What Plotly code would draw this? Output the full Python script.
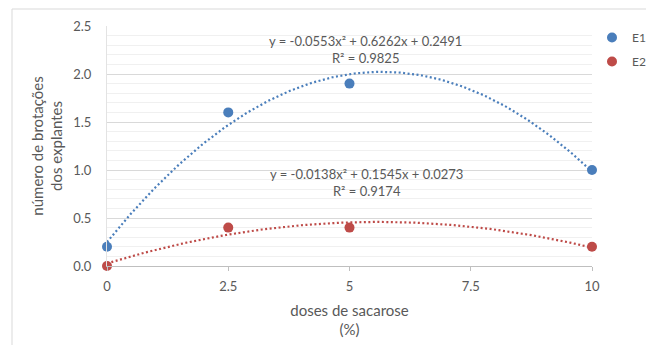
import numpy as np
import plotly.graph_objects as go

# ---- data ----
doses = [0, 2.5, 5, 10]
e1_values = [0.2, 1.6, 1.9, 1.0]
e2_values = [0.0, 0.4, 0.4, 0.2]
series_names = ["E1", "E2"]
eq_e1 = "y = -0.0553x² + 0.6262x + 0.2491<br>R² = 0.9825"
eq_e2 = "y = -0.0138x² + 0.1545x + 0.0273<br>R² = 0.9174"
x_ticks = [0, 2.5, 5, 7.5, 10]
x_tick_labels = ["0", "2.5", "5", "7.5", "10"]
y_ticks = [0.0, 0.5, 1.0, 1.5, 2.0, 2.5]

BLUE = "#4A7EBB"
RED = "#BE4B48"
GRAY = "#595959"
FONT = "Lato, Carlito, Calibri, sans-serif"

xs = np.linspace(0, 10, 201)
fit1 = np.polyval(np.polyfit(doses, e1_values, 2), xs)
fit2 = np.polyval(np.polyfit(doses, e2_values, 2), xs)

fig = go.Figure()
for name, fit, col in [("E1", fit1, BLUE), ("E2", fit2, RED)]:
    fig.add_trace(go.Scatter(x=xs, y=fit, mode="lines", showlegend=False,
                             line=dict(color=col, width=2.2, dash="2px,2.5px"),
                             hoverinfo="skip", cliponaxis=False))
for name, vals, col in [("E1", e1_values, BLUE), ("E2", e2_values, RED)]:
    fig.add_trace(go.Scatter(x=doses, y=vals, mode="markers", name=name,
                             legendgroup=name,
                             marker=dict(color=col, size=10), cliponaxis=False))

fig.update_layout(
    width=638, height=337,
    margin=dict(l=99, r=54, t=18, b=79, autoexpand=False),
    paper_bgcolor="white", plot_bgcolor="white",
    font=dict(family=FONT, color=GRAY, size=12),
    legend=dict(x=1.0, y=1.0125, xanchor="left", yanchor="top",
                font=dict(size=12, color=GRAY), traceorder="grouped",
                tracegroupgap=5, itemwidth=30, bgcolor="rgba(0,0,0,0)"),
    xaxis=dict(range=[0, 10], tickvals=x_ticks, ticktext=x_tick_labels, automargin=False,
               showgrid=False, zeroline=False, showline=True, linecolor="#BFBFBF",
               ticks="outside", ticklen=4, tickcolor="#BFBFBF",
               tickfont=dict(size=13, color=GRAY), ticklabelstandoff=4,
               title=dict(text="doses de sacarose<br>(%)",
                          font=dict(size=15, color=GRAY), standoff=12)),
    yaxis=dict(range=[0, 2.5], tickvals=y_ticks, tickformat=".1f", automargin=False,
               showgrid=True, gridcolor="#D9D9D9", gridwidth=1,
               minor=dict(dtick=0.1, showgrid=True, gridcolor="#F0F0F0", gridwidth=1, ticks=""),
               zeroline=False, showline=True, linecolor="#E3E3E3",
               ticks="", tickfont=dict(size=13, color=GRAY), ticklabelstandoff=12,
               title=dict(text="número de brotações<br>dos explantes",
                          font=dict(size=15, color=GRAY), standoff=6)),
    shapes=[dict(type="rect", xref="paper", yref="paper",
                 x0=(12 - 107) / 485, x1=1.2, y0=-0.5, y1=(266 - 9) / 240,
                 line=dict(color="#D9D9D9", width=1), layer="below")],
    annotations=[
        dict(text=eq_e1, x=5.32, y=2.26, xref="x", yref="y", showarrow=False,
             font=dict(size=13, color=GRAY), align="center"),
        dict(text=eq_e2, x=5.36, y=0.87, xref="x", yref="y", showarrow=False,
             font=dict(size=13, color=GRAY), align="center"),
    ],
)

fig.write_html("out.html")
